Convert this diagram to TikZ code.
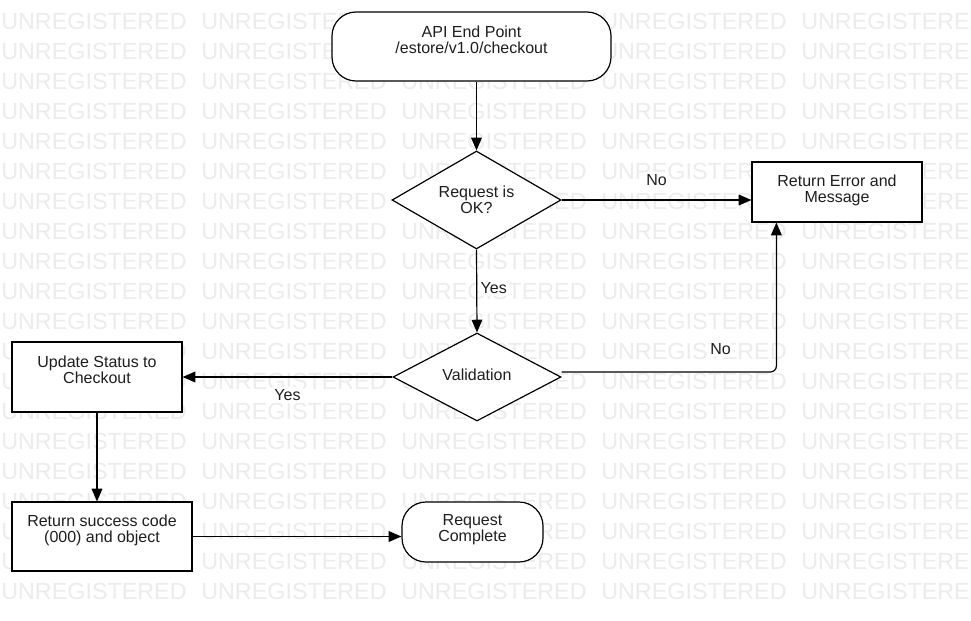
\documentclass[tikz,border=0pt]{standalone}
\usepackage{fontspec}
\setmainfont{Liberation Sans}
\usetikzlibrary{shapes.geometric,arrows.meta}
\definecolor{wm}{RGB}{236,236,236}
\definecolor{tx}{RGB}{30,30,30}
\begin{document}
\begin{tikzpicture}[x=0.75pt,y=-0.75pt,
  every node/.style={font=\fontsize{12}{12}\selectfont, text=tx},
  box/.style={draw, line width=0.9pt, fill=white, rectangle, inner sep=0pt},
  term/.style={box, rounded corners=18pt},
  dia/.style={draw, line width=0.9pt, fill=white, diamond, inner sep=0pt},
  txt/.style={align=center, inner sep=0pt},
  lbl/.style={fill=white, inner sep=1.5pt},
  arr/.style={draw, line width=0.9pt, -{Triangle[length=9.5pt,width=8pt]}},
  wmk/.style={font=\fontsize{17.5}{17.5}\selectfont, text=wm, anchor=base west, inner sep=0pt},
]
\useasboundingbox (0,0) rectangle (971,621);
\fill[white] (0,0) rectangle (971,621);
\begin{scope}
\clip (0,0) rectangle (971,621);
\foreach \r in {0,...,19} \foreach \c in {0,...,4}
  \node[wmk] (wm-\r-\c) at (1+200*\c, 29+30*\r) {UNREGISTERED};
\end{scope}

% shapes
\node[term, minimum width=279*0.75pt, minimum height=69*0.75pt,
  label={[txt,yshift=5.25pt]center:{API End Point\\/estore/v1.0/checkout}}] (api) at (471.5,46.5) {};
\node[dia, minimum width=169*0.75pt, minimum height=98*0.75pt,
  label={[txt,yshift=0pt]center:{Request is\\OK?}}] (d1) at (476.5,200) {};
\node[box, minimum width=170*0.75pt, minimum height=60*0.75pt,
  label={[txt,yshift=1.5pt]center:{Return Error and\\Message}}] (err) at (837,192) {};
\node[dia, minimum width=168*0.75pt, minimum height=88*0.75pt,
  label={[txt,yshift=1.5pt]center:{Validation}}] (d2) at (477,377) {};
\node[box, minimum width=170*0.75pt, minimum height=70*0.75pt,
  label={[txt,yshift=5.25pt]center:{Update Status to\\Checkout}}] (upd) at (97,377) {};
\node[box, minimum width=180*0.75pt, minimum height=69*0.75pt,
  label={[txt,yshift=4.9pt]center:{Return success code\\(000) and object}}] (suc) at (102,536.5) {};
\node[term, minimum width=141*0.75pt, minimum height=60*0.75pt,
  label={[txt,yshift=1.5pt]center:{Request\\Complete}}] (done) at (472.5,532) {};

% connectors
\draw[arr] (api.south -| d1.north) -- (d1.north);
\draw[arr] (d1.east) -- (d1.east -| err.west)
  node[lbl, pos=0.5, yshift=15pt] (lno1) {No};
\draw[arr] (d1.south) -- (d2.north)
  node[lbl, pos=0.47, xshift=12.75pt] (lyes1) {Yes};
\draw[arr, rounded corners=4.5pt] ([yshift=3.75pt]d2.east) -| ([xshift=18.75pt]err.south west)
  node[lbl, pos=0.37, yshift=17.25pt] (lno2) {No};
\draw[arr] (d2.west) -- (upd.east)
  node[lbl, pos=0.5, yshift=-13.5pt] (lyes2) {Yes};
\draw[arr] (upd.south) -- (upd.south |- suc.north);
\draw[arr] (suc.east) -- (suc.east -| done.west);
\end{tikzpicture}
\end{document}
